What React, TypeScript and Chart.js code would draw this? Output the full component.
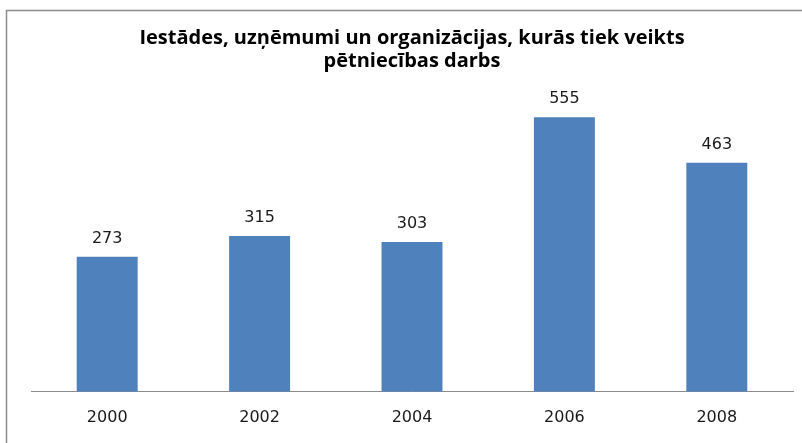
import React, { useEffect, useRef } from "react";
import { Chart, registerables } from "chart.js";

Chart.register(...registerables);

const categories = ["2000", "2002", "2004", "2006", "2008"];
const values = [273, 315, 303, 555, 463];
const titleLines = ["Iestādes, uzņēmumi un organizācijas, kurās tiek veikts", "pētniecības darbs"];

const valueLabels = {
  id: "valueLabels",
  afterDatasetsDraw(chart: any) {
    const ctx = chart.ctx;
    const meta = chart.getDatasetMeta(0);
    ctx.save();
    ctx.font = "16px 'DejaVu Sans'";
    ctx.fillStyle = "#1a1a1a";
    ctx.textAlign = "center";
    ctx.textBaseline = "bottom";
    meta.data.forEach((el: any, i: number) => {
      ctx.fillText(String(values[i]), el.x, el.y - 10);
    });
    ctx.restore();
  },
};

const frame = {
  id: "frame",
  beforeDraw(chart: any) {
    const ctx = chart.ctx;
    ctx.save();
    ctx.fillStyle = "#ffffff";
    ctx.fillRect(0, 0, chart.width, chart.height);
    ctx.strokeStyle = "#8c8c8c";
    ctx.lineWidth = 1.5;
    ctx.beginPath();
    ctx.moveTo(6.5, chart.height);
    ctx.lineTo(6.5, 10.5);
    ctx.lineTo(chart.width, 10.5);
    ctx.stroke();
    ctx.restore();
  },
};

export default function App() {
  const ref = useRef<HTMLCanvasElement>(null);
  useEffect(() => {
    document.body.style.margin = "0";
    const chart = new Chart(ref.current!, {
      type: "bar",
      data: {
        labels: categories,
        datasets: [
          {
            data: values,
            backgroundColor: "#4F81BD",
            barPercentage: 0.8,
            categoryPercentage: 0.5,
          },
        ],
      },
      options: {
        animation: false,
        responsive: false,
        layout: { padding: { left: 31, right: 9, top: 0, bottom: 0 } },
        plugins: {
          legend: { display: false },
          tooltip: { enabled: false },
          title: {
            display: true,
            text: titleLines,
            color: "#000",
            font: { family: "'Open Sans'", size: 20, weight: "bold", lineHeight: 1.15 },
            padding: { top: 27, bottom: 22 },
          },
        },
        scales: {
          x: {
            grid: { display: false, drawTicks: false },
            border: { display: true, color: "#8c8c8c", width: 1 },
            ticks: { color: "#1a1a1a", font: { family: "'DejaVu Sans'", size: 16 }, padding: 16 },
          },
          y: {
            display: false,
            min: 0,
            max: 600,
          },
        },
      },
      plugins: [frame, valueLabels],
    });
    return () => chart.destroy();
  }, []);
  return <canvas ref={ref} width={802} height={443} style={{ display: "block" }} />;
}
